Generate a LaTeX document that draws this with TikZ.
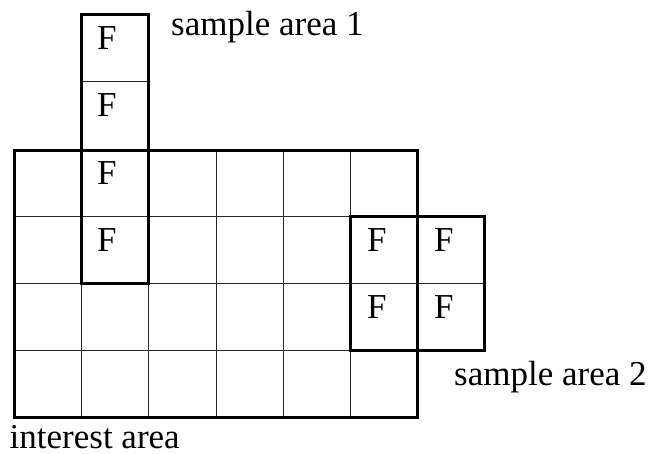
\documentclass[tikz,border=0pt]{standalone}
\usepackage{fontspec}
\setmainfont{Liberation Serif}
\begin{document}
\begin{tikzpicture}[x=1pt,y=-1pt,
  gridline/.style={line width=0.9pt,black!85},
  areabox/.style={line width=3pt,line join=miter},
  cellmark/.style={font=\fontsize{35}{35}\selectfont,anchor=base west,inner sep=0pt},
  arealabel/.style={font=\fontsize{35}{35}\selectfont,anchor=base west,inner sep=0pt,text depth=0pt}]
\useasboundingbox (0,0) rectangle (652,453);
% thin cell lines of the interest area
\foreach \x in {81,148,216,283,350} \draw[gridline] (\x,150) -- (\x,417);
\foreach \y in {216,283,350} \draw[gridline] (14,\y) -- (417,\y);
% thin cell lines of the sample areas outside the interest area
\draw[gridline] (81,81) -- (148,81);
\draw[gridline] (417,283) -- (484,283);
% area outlines
\draw[areabox] (14,150) rectangle (417,417);
\draw[areabox] (81,14) rectangle (148,283);
\draw[areabox] (350,216) rectangle (484,350);
% marked cells
\node[cellmark] (fa) at (97,49) {F};
\node[cellmark] (fb) at (97,116) {F};
\node[cellmark] (fc) at (97,184) {F};
\node[cellmark] (fd) at (97,251) {F};
\node[cellmark] (fe) at (367,251) {F};
\node[cellmark] (ff) at (434,251) {F};
\node[cellmark] (fg) at (367,318) {F};
\node[cellmark] (fh) at (434,318) {F};
% labels
\node[arealabel] (s1) at (171,35) {sample area 1};
\node[arealabel] (s2) at (454,385) {sample area 2};
\node[arealabel] (ia) at (9.5,448) {interest area};
\end{tikzpicture}
\end{document}
